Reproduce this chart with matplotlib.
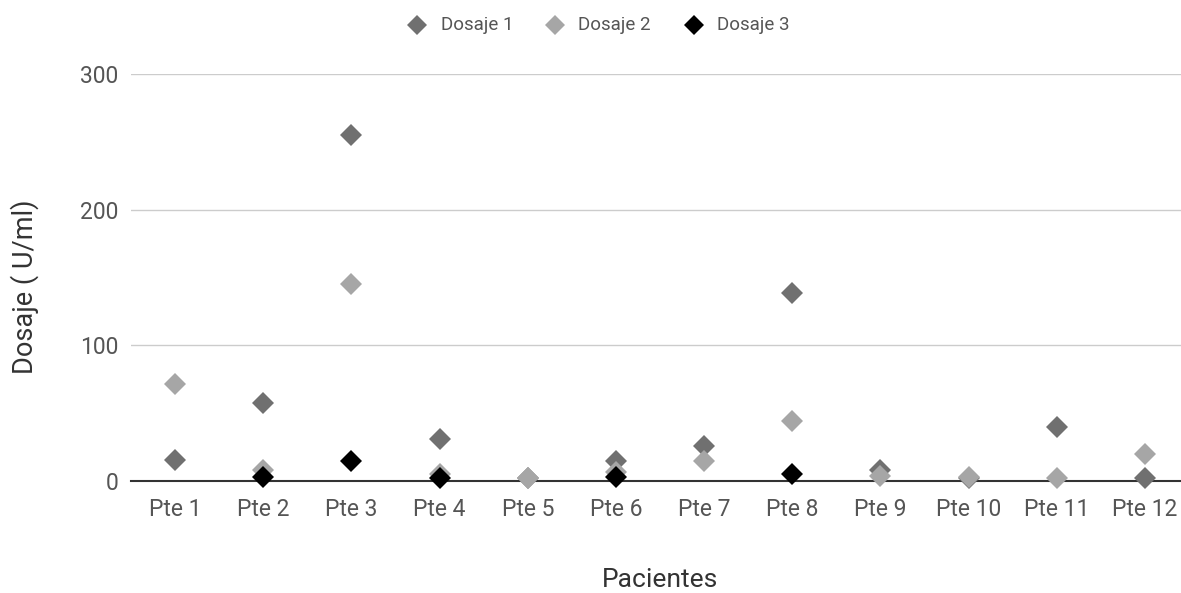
import numpy as np
import matplotlib
matplotlib.use("Agg")
import matplotlib.pyplot as plt
from matplotlib.lines import Line2D

plt.rcParams['font.family'] = ['Roboto', 'DejaVu Sans']

categories = ["Pte 1", "Pte 2", "Pte 3", "Pte 4", "Pte 5", "Pte 6",
              "Pte 7", "Pte 8", "Pte 9", "Pte 10", "Pte 11", "Pte 12"]
dosaje1 = [15.5, 57.5, 255, 31, 2, 15, 26, 138.5, 8, 2, 40, 2]
dosaje2 = [71.5, 8, 145, 5, 2.5, 7, 14.5, 44, 4, 3, 2.5, 20]
dosaje3 = [np.nan, 3, 15, 2, np.nan, 3, np.nan, 5, np.nan, np.nan, np.nan, np.nan]
series_names = ["Dosaje 1", "Dosaje 2", "Dosaje 3"]
colors = ["#707070", "#a6a6a6", "#000000"]

W, H = 1181, 593
fig = plt.figure(figsize=(W / 100, H / 100), dpi=100)
left, right, top, bottom = 131, 1189, 74, 481
ax = fig.add_axes([left / W, (H - bottom) / H, (right - left) / W, (bottom - top) / H])

x = np.arange(len(categories))
for vals, c, name in zip([dosaje1, dosaje2, dosaje3], colors, series_names):
    ax.plot(x, vals, linestyle='none', marker='D', markersize=11,
            color=c, markeredgewidth=0, clip_on=False, zorder=3, label=name)

ax.set_xlim(-0.5, len(categories) - 0.5)
ax.set_ylim(0, 300)
ax.set_yticks([0, 100, 200, 300])
ax.set_xticks(x)
ax.set_xticklabels(categories)
ax.tick_params(axis='both', length=0, labelsize=16.5, labelcolor='#555555')
ax.tick_params(axis='x', pad=12)
ax.tick_params(axis='y', pad=9)
ax.grid(axis='y', color='#cccccc', linewidth=1)
ax.set_axisbelow(True)
for s in ['top', 'right', 'left']:
    ax.spines[s].set_visible(False)
ax.spines['bottom'].set_color('#333333')
ax.spines['bottom'].set_linewidth(1.5)

fig.text(660 / W, 1 - 580 / H, "Pacientes", ha='center', va='center',
         fontsize=19, color='#333333')
fig.text(25 / W, 1 - 287 / H, "Dosaje ( U/ml)", ha='center', va='center',
         rotation=90, fontsize=19.5, color='#333333')

# legend placed manually
marker_x = [417, 555, 694]
text_x = [441, 578, 717]
for mx, tx, c, name in zip(marker_x, text_x, colors, series_names):
    fig.add_artist(Line2D([mx / W], [1 - 25 / H], transform=fig.transFigure,
                          linestyle='none', marker='D', markersize=10,
                          color=c, markeredgewidth=0))
    fig.text(tx / W, 1 - 25 / H, name, ha='left', va='center',
             fontsize=13.5, color='#555555')

fig.savefig("out.png", dpi=100)
